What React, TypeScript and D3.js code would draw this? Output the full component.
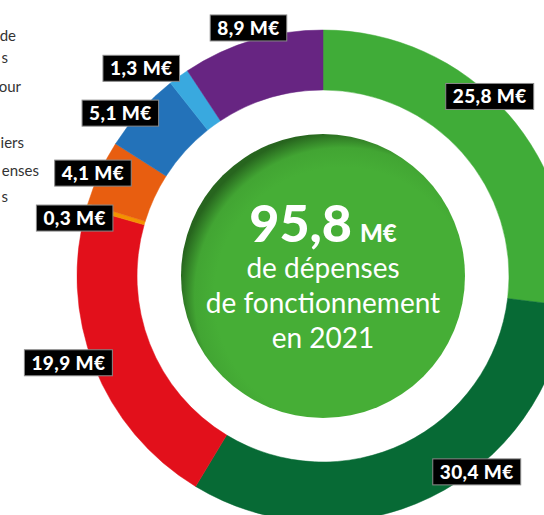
import * as React from 'react'
import {select, pie, arc} from 'd3'

const {useRef, useEffect} = React

// dépenses de fonctionnement 2021, en M€ (sens horaire depuis midi)
const values = [25.8, 30.4, 19.9, 0.3, 4.1, 5.1, 1.3, 8.9]
const labels = ['25,8 M€', '30,4 M€', '19,9 M€', '0,3 M€', '4,1 M€', '5,1 M€', '1,3 M€', '8,9 M€']
const colors = ['#40ac38', '#076a35', '#e2101b', '#f39200', '#e85e10', '#2372b9', '#39a9df', '#672582']
const total = '95,8'
const centerLines = ['de dépenses', 'de fonctionnement', 'en 2021']
// bouts de légende coupés par le bord gauche
const legendBits = ['de', 's', 'our', 'iers', 'enses', 's']

// placement des étiquettes : décalage d'angle (degrés) et rayon
const labelNudge = [-5.6, -12.2, 2.6, -3.4, -0.7, -3.3, -5.3, 0]
const labelRadius = [245, 249, 269, 255, 252, 260, 276, 259]
const legendY = [41, 63, 92, 148, 176, 202]
const legendRight = [16, 8, 21, 24, 39, 8]

const W = 544
const H = 515
const cx = 323
const cy = 276

function Donut() {
  const ref = useRef(null)

  useEffect(() => {
    const svg = select(ref.current)
    svg.selectAll('*').remove()

    const defs = svg.append('defs')
    const grad = defs.append('radialGradient')
      .attr('id', 'centerGrad')
      .attr('cx', '57%').attr('cy', '57%').attr('r', '58%')
    grad.append('stop').attr('offset', '0.78').attr('stop-color', '#46ae36')
    grad.append('stop').attr('offset', '0.9').attr('stop-color', '#42a533')
    grad.append('stop').attr('offset', '1').attr('stop-color', '#27651e')

    svg.selectAll('text.legend')
      .data(legendBits)
      .join('text')
      .attr('class', 'legend')
      .attr('x', (d, i) => legendRight[i])
      .attr('y', (d, i) => legendY[i])
      .attr('text-anchor', 'end')
      .attr('font-family', 'Lato, sans-serif')
      .attr('font-size', 15)
      .attr('fill', '#333')
      .text(d => d)

    const g = svg.append('g').attr('transform', `translate(${cx},${cy})`)

    const arcs = pie().sort(null).value(d => d)(values)
    const ring = arc().innerRadius(186).outerRadius(246)

    g.selectAll('path.slice')
      .data(arcs)
      .join('path')
      .attr('class', 'slice')
      .attr('d', ring)
      .attr('fill', (d, i) => colors[i])
      .attr('stroke', (d, i) => colors[i])
      .attr('stroke-width', 0.5)

    g.append('circle')
      .attr('r', 142)
      .attr('fill', 'url(#centerGrad)')

    const big = g.append('text')
      .attr('y', -34)
      .attr('text-anchor', 'middle')
      .attr('font-family', 'Lato, sans-serif')
      .attr('font-weight', 900)
      .attr('fill', '#fff')
    big.append('tspan').attr('font-size', 52).text(total)
    big.append('tspan').attr('font-size', 24).attr('dx', 8).text('M€')

    g.selectAll('text.sub')
      .data(centerLines)
      .join('text')
      .attr('class', 'sub')
      .attr('y', (d, i) => 2 + i * 35)
      .attr('text-anchor', 'middle')
      .attr('font-family', 'Lato, sans-serif')
      .attr('font-size', 28)
      .attr('fill', '#fff')
      .text(d => d)

    const lab = g.selectAll('g.lab')
      .data(arcs)
      .join('g')
      .attr('class', 'lab')
      .attr('transform', (d, i) => {
        const a = (d.startAngle + d.endAngle) / 2 + labelNudge[i] * Math.PI / 180
        const r = labelRadius[i]
        return `translate(${r * Math.sin(a)},${-r * Math.cos(a)})`
      })

    const rects = lab.append('rect')
      .attr('fill', '#000')
      .attr('stroke', '#8a8a8a')
      .attr('stroke-width', 1)

    const txt = lab.append('text')
      .attr('text-anchor', 'middle')
      .attr('y', 7)
      .attr('font-family', 'Lato, sans-serif')
      .attr('font-weight', 900)
      .attr('font-size', 19)
      .attr('letter-spacing', 0.4)
      .attr('fill', '#fff')
      .text((d, i) => labels[i])

    txt.each(function (d, i) {
      const w = this.getComputedTextLength() + 14
      select(rects.nodes()[i])
        .attr('x', -w / 2)
        .attr('y', -13)
        .attr('width', w)
        .attr('height', 26)
    })
  }, [])

  return (
    <svg
      ref={ref}
      width={W}
      height={H}
      style={{position: 'absolute', left: 0, top: 0, background: '#fff'}}
    />
  )
}

export default function App() {
  return <Donut />
}
